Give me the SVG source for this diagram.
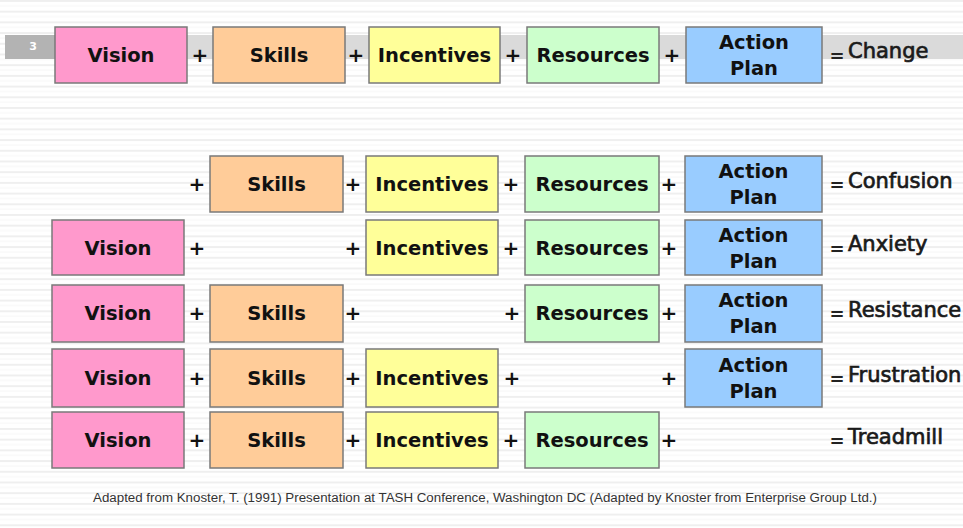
<svg xmlns="http://www.w3.org/2000/svg" width="963" height="528" viewBox="0 0 963 528">
  <defs>
    <!-- faint ruled background -->
    <pattern id="rules" x="0" y="0" width="963" height="10.7" patternUnits="userSpaceOnUse">
      <rect x="0" y="0" width="963" height="2" fill="#efefef"/>
      <rect x="0" y="5.4" width="963" height="1" fill="#f6f6f6"/>
    </pattern>
  </defs>
  <style>
    .box { stroke: #7a7a7a; stroke-width: 1.5; }
    .vision { fill: #ff99cc; }
    .skills { fill: #ffcc99; }
    .incent { fill: #ffff99; }
    .resrc { fill: #ccffcc; }
    .action { fill: #99ccff; }
    .lbl { font-family: "DejaVu Sans", Verdana, sans-serif; font-weight: bold; font-size: 19.5px; fill: #111; text-anchor: middle; }
    .plus { font-family: "DejaVu Sans", Verdana, sans-serif; font-weight: bold; font-size: 20px; fill: #111; text-anchor: middle; }
    .eq { font-family: "DejaVu Sans", Verdana, sans-serif; font-weight: bold; font-size: 18px; fill: #222; text-anchor: middle; }
    .res { font-family: "DejaVu Sans", Verdana, sans-serif; font-size: 21px; fill: #1a1a1a; stroke: #1a1a1a; stroke-width: 0.7; }
    .foot { font-family: "Liberation Sans", Arial, sans-serif; font-size: 12px; fill: #333; }
  </style>

  <rect x="0" y="0" width="963" height="528" fill="#ffffff"/>
  <rect x="0" y="0" width="963" height="528" fill="url(#rules)"/>

  <!-- title band with slide number -->
  <g id="band">
    <rect x="5" y="35" width="958" height="24" fill="#dadada"/>
    <rect x="5" y="35" width="50" height="24" fill="#b3b3b3"/>
    <text x="33" y="50" font-family="DejaVu Sans, sans-serif" font-weight="bold" font-size="11" fill="#ffffff" text-anchor="middle">3</text>
  </g>

  <!-- row 0: full formula -->
  <g id="row-change">
    <g id="r0-vision"><rect class="box vision" x="55" y="27" width="132" height="56"/><text class="lbl" x="121" y="62">Vision</text></g>
    <g id="r0-skills"><rect class="box skills" x="213" y="27" width="132" height="56"/><text class="lbl" x="279" y="62">Skills</text></g>
    <g id="r0-incentives"><rect class="box incent" x="369" y="27" width="131" height="56"/><text class="lbl" x="434.5" y="62">Incentives</text></g>
    <g id="r0-resources"><rect class="box resrc" x="527" y="27" width="132" height="56"/><text class="lbl" x="593" y="62">Resources</text></g>
    <g id="r0-action"><rect class="box action" x="686" y="27" width="136" height="56"/><text class="lbl" x="754" y="49">Action</text><text class="lbl" x="754" y="75">Plan</text></g>
    <g id="r0-ops">
      <text class="plus" x="200" y="62">+</text>
      <text class="plus" x="356" y="62">+</text>
      <text class="plus" x="513" y="62">+</text>
      <text class="plus" x="672" y="62">+</text>
      <text class="eq" x="837" y="62">=</text>
      <text class="res" x="848" y="58">Change</text>
    </g>
  </g>

  <!-- row 1: no vision -->
  <g id="row-confusion">
    <g id="r1-skills"><rect class="box skills" x="210" y="156" width="133" height="56"/><text class="lbl" x="276.5" y="191">Skills</text></g>
    <g id="r1-incentives"><rect class="box incent" x="366" y="156" width="132" height="56"/><text class="lbl" x="432" y="191">Incentives</text></g>
    <g id="r1-resources"><rect class="box resrc" x="525" y="156" width="134" height="56"/><text class="lbl" x="592" y="191">Resources</text></g>
    <g id="r1-action"><rect class="box action" x="685" y="156" width="137" height="56"/><text class="lbl" x="753.5" y="178">Action</text><text class="lbl" x="753.5" y="204">Plan</text></g>
    <g id="r1-ops">
      <text class="plus" x="197" y="191">+</text>
      <text class="plus" x="353" y="191">+</text>
      <text class="plus" x="511" y="191">+</text>
      <text class="plus" x="669" y="191">+</text>
      <text class="eq" x="837" y="191">=</text>
      <text class="res" x="848" y="187.5">Confusion</text>
    </g>
  </g>

  <!-- row 2: no skills -->
  <g id="row-anxiety">
    <g id="r2-vision"><rect class="box vision" x="52" y="220" width="132" height="55"/><text class="lbl" x="118" y="254.5">Vision</text></g>
    <g id="r2-incentives"><rect class="box incent" x="366" y="220" width="132" height="55"/><text class="lbl" x="432" y="254.5">Incentives</text></g>
    <g id="r2-resources"><rect class="box resrc" x="525" y="220" width="134" height="55"/><text class="lbl" x="592" y="254.5">Resources</text></g>
    <g id="r2-action"><rect class="box action" x="685" y="220" width="137" height="55"/><text class="lbl" x="753.5" y="241.5">Action</text><text class="lbl" x="753.5" y="267.5">Plan</text></g>
    <g id="r2-ops">
      <text class="plus" x="197" y="254.5">+</text>
      <text class="plus" x="353" y="254.5">+</text>
      <text class="plus" x="511" y="254.5">+</text>
      <text class="plus" x="669" y="254.5">+</text>
      <text class="eq" x="837" y="254.5">=</text>
      <text class="res" x="848" y="251">Anxiety</text>
    </g>
  </g>

  <!-- row 3: no incentives -->
  <g id="row-resistance">
    <g id="r3-vision"><rect class="box vision" x="52" y="285" width="132" height="57"/><text class="lbl" x="118" y="320">Vision</text></g>
    <g id="r3-skills"><rect class="box skills" x="210" y="285" width="133" height="57"/><text class="lbl" x="276.5" y="320">Skills</text></g>
    <g id="r3-resources"><rect class="box resrc" x="525" y="285" width="134" height="57"/><text class="lbl" x="592" y="320">Resources</text></g>
    <g id="r3-action"><rect class="box action" x="685" y="285" width="137" height="57"/><text class="lbl" x="753.5" y="307">Action</text><text class="lbl" x="753.5" y="333">Plan</text></g>
    <g id="r3-ops">
      <text class="plus" x="197" y="320">+</text>
      <text class="plus" x="353" y="320">+</text>
      <text class="plus" x="512" y="320">+</text>
      <text class="plus" x="669" y="320">+</text>
      <text class="eq" x="837" y="320">=</text>
      <text class="res" x="848" y="316.5">Resistance</text>
    </g>
  </g>

  <!-- row 4: no resources -->
  <g id="row-frustration">
    <g id="r4-vision"><rect class="box vision" x="52" y="349" width="132" height="58"/><text class="lbl" x="118" y="385">Vision</text></g>
    <g id="r4-skills"><rect class="box skills" x="210" y="349" width="133" height="58"/><text class="lbl" x="276.5" y="385">Skills</text></g>
    <g id="r4-incentives"><rect class="box incent" x="366" y="349" width="132" height="58"/><text class="lbl" x="432" y="385">Incentives</text></g>
    <g id="r4-action"><rect class="box action" x="685" y="349" width="137" height="58"/><text class="lbl" x="753.5" y="372">Action</text><text class="lbl" x="753.5" y="398">Plan</text></g>
    <g id="r4-ops">
      <text class="plus" x="197" y="385">+</text>
      <text class="plus" x="353" y="385">+</text>
      <text class="plus" x="512" y="385">+</text>
      <text class="plus" x="669" y="385">+</text>
      <text class="eq" x="837" y="385">=</text>
      <text class="res" x="848" y="381.5">Frustration</text>
    </g>
  </g>

  <!-- row 5: no action plan -->
  <g id="row-treadmill">
    <g id="r5-vision"><rect class="box vision" x="52" y="412" width="132" height="56"/><text class="lbl" x="118" y="447">Vision</text></g>
    <g id="r5-skills"><rect class="box skills" x="210" y="412" width="133" height="56"/><text class="lbl" x="276.5" y="447">Skills</text></g>
    <g id="r5-incentives"><rect class="box incent" x="366" y="412" width="132" height="56"/><text class="lbl" x="432" y="447">Incentives</text></g>
    <g id="r5-resources"><rect class="box resrc" x="525" y="412" width="134" height="56"/><text class="lbl" x="592" y="447">Resources</text></g>
    <g id="r5-ops">
      <text class="plus" x="197" y="447">+</text>
      <text class="plus" x="353" y="447">+</text>
      <text class="plus" x="511" y="447">+</text>
      <text class="plus" x="669" y="447">+</text>
      <text class="eq" x="837" y="447">=</text>
      <text class="res" x="848" y="443.5">Treadmill</text>
    </g>
  </g>

  <!-- source note -->
  <text id="source" class="foot" x="93" y="502" textLength="784" lengthAdjust="spacingAndGlyphs">Adapted from Knoster, T. (1991) Presentation at TASH Conference, Washington DC (Adapted by Knoster from Enterprise Group Ltd.)</text>
</svg>
